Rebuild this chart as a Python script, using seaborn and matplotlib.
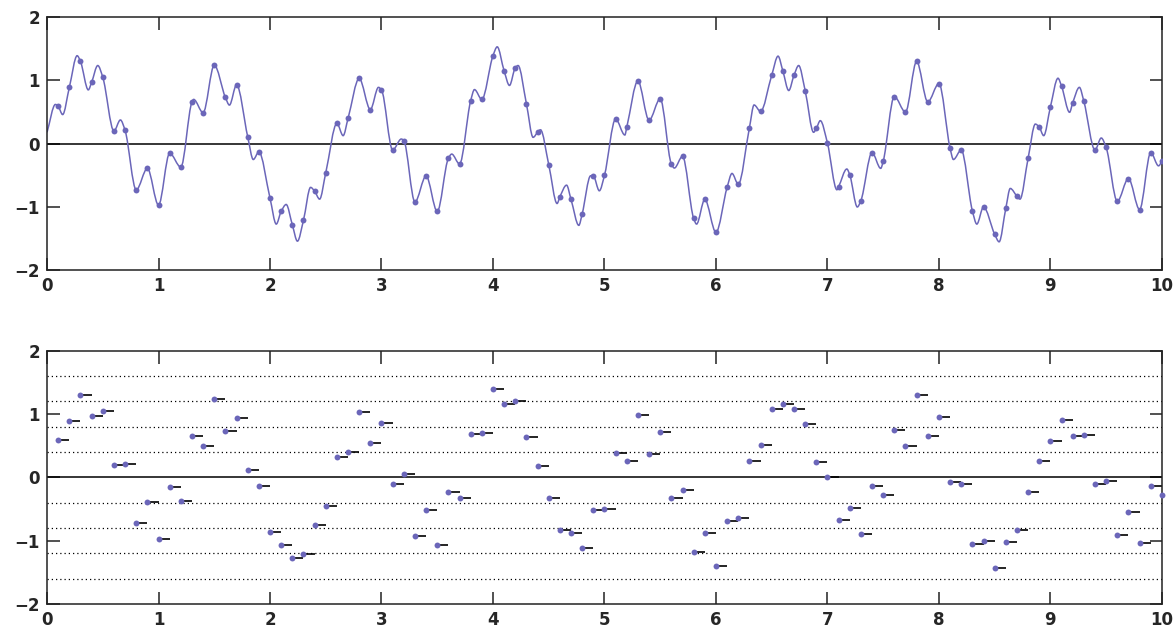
import numpy as np
import pandas as pd
import matplotlib
matplotlib.use("Agg")
import matplotlib.pyplot as plt
from matplotlib.path import Path
from matplotlib.patches import PathPatch
import seaborn as sns

# ── Data ────────────────────────────────────────────────────
# sampled values at t = 0.1, 0.2, ..., 10.0
sample_t = np.round(np.arange(1, 101) * 0.1, 1)
sample_v = [
    0.59, 0.89, 1.30, 0.97, 1.05, 0.20, 0.21, -0.73, -0.39, -0.97,
    -0.15, -0.37, 0.66, 0.49, 1.24, 0.73, 0.93, 0.11, -0.13, -0.86,
    -1.07, -1.28, -1.21, -0.75, -0.46, 0.32, 0.40, 1.03, 0.54, 0.85,
    -0.10, 0.05, -0.92, -0.51, -1.07, -0.23, -0.32, 0.68, 0.70, 1.39,
    1.15, 1.20, 0.63, 0.18, -0.33, -0.84, -0.88, -1.11, -0.51, -0.50,
    0.39, 0.26, 0.99, 0.37, 0.71, -0.32, -0.20, -1.18, -0.88, -1.40,
    -0.69, -0.64, 0.25, 0.51, 1.08, 1.15, 1.08, 0.84, 0.24, 0.01,
    -0.68, -0.49, -0.90, -0.14, -0.28, 0.745, 0.50, 1.30, 0.66, 0.95,
    -0.07, -0.10, -1.06, -1.00, -1.43, -1.02, -0.83, -0.23, 0.26, 0.58,
    0.91, 0.645, 0.67, -0.10, -0.06, -0.91, -0.55, -1.04, -0.14, -0.28,
]

# extra points of the continuous signal (start and ripple peaks / troughs)
curve_t = [
    0.0, 0.075, 0.14, 0.27, 0.37, 0.455, 0.658,
    1.315, 1.636, 1.85, 2.056, 2.145, 2.246, 2.364, 2.445,
    2.656, 2.973, 3.178, 3.63, 3.834, 4.038, 4.148, 4.225, 4.36, 4.426,
    4.575, 4.66, 4.77, 4.876, 4.954, 5.183, 5.627, 5.826, 6.144,
    6.342, 6.557, 6.653, 6.742, 6.876, 6.936, 7.085, 7.174, 7.268, 7.478,
    8.13, 8.34, 8.54, 8.64, 8.727, 8.865, 8.94, 9.068, 9.172, 9.26,
    9.456, 9.97,
]
curve_v = [
    0.18, 0.62, 0.46, 1.39, 0.85, 1.235, 0.375,
    0.70, 0.61, -0.25, -1.27, -0.96, -1.54, -0.69, -0.876,
    0.127, 0.89, 0.074, -0.164, 0.855, 1.53, 0.92, 1.235, 0.10, 0.22,
    -0.945, -0.655, -1.29, -0.507, -0.744, 0.137, -0.385, -1.27, -0.47,
    0.612, 1.383, 0.84, 1.235, 0.18, 0.364, -0.728, -0.40, -1.0, -0.39,
    -0.25, -1.27, -1.55, -0.707, -0.876, 0.31, 0.127, 1.034, 0.496, 0.89,
    0.09, -0.35,
]

# quantisation levels (dotted lines in the lower panel)
levels = [-1.6, -1.2, -0.8, -0.4, 0.4, 0.8, 1.2, 1.6]

samples = pd.DataFrame({"t": sample_t, "v": sample_v})
curve = pd.concat([samples, pd.DataFrame({"t": curve_t, "v": curve_v})])
curve = curve.sort_values("t").reset_index(drop=True)

purple = "#6b66b9"


def smooth_path(x, y):
    """Bezier path through the read points (monotone cubic tangents)."""
    x = np.asarray(x, float)
    y = np.asarray(y, float)
    h = np.diff(x)
    d = np.diff(y) / h
    m = np.zeros_like(y)
    m[0], m[-1] = d[0], d[-1]
    for i in range(1, len(x) - 1):
        if d[i - 1] * d[i] > 0:
            w1 = 2 * h[i] + h[i - 1]
            w2 = h[i] + 2 * h[i - 1]
            m[i] = (w1 + w2) / (w1 / d[i - 1] + w2 / d[i])
    verts = [(x[0], y[0])]
    codes = [Path.MOVETO]
    for i in range(len(x) - 1):
        verts += [(x[i] + h[i] / 3, y[i] + m[i] * h[i] / 3),
                  (x[i + 1] - h[i] / 3, y[i + 1] - m[i + 1] * h[i] / 3),
                  (x[i + 1], y[i + 1])]
        codes += [Path.CURVE4] * 3
    return Path(verts, codes)


# ── Style ───────────────────────────────────────────────────
sns.set_style("ticks")
plt.rcParams["font.family"] = ["DejaVu Sans"]
plt.rcParams["axes.edgecolor"] = "#222222"
plt.rcParams["axes.linewidth"] = 1.1

fig = plt.figure(figsize=(11.76, 6.33), dpi=100)
ax1 = fig.add_axes([0.040, 0.573, 0.948, 0.400])
ax2 = fig.add_axes([0.040, 0.046, 0.948, 0.400])

# ── Top: continuous signal with samples ────────────────────
ax1.axhline(0, color="black", lw=1.1, zorder=1)
ax1.add_patch(PathPatch(smooth_path(curve["t"], curve["v"]), facecolor="none",
                        edgecolor=purple, lw=1.1, zorder=2))
sns.scatterplot(data=samples, x="t", y="v", ax=ax1, color=purple, s=18,
                linewidth=0, zorder=3)

# ── Bottom: sample and hold ────────────────────────────────
for lvl in levels:
    ax2.axhline(lvl, color="black", lw=0.9, ls=(0, (1, 2.4)), zorder=1)
ax2.axhline(0, color="black", lw=1.1, zorder=1)
ax2.hlines(samples["v"], samples["t"], samples["t"] + 0.1,
           color="black", lw=1.2, zorder=2)
sns.scatterplot(data=samples, x="t", y="v", ax=ax2, color=purple, s=18,
                linewidth=0, zorder=3, clip_on=False)

for ax in (ax1, ax2):
    ax.set_xlim(0, 10)
    ax.set_ylim(-2, 2)
    ax.set_xticks(range(0, 11))
    ax.set_yticks([-2, -1, 0, 1, 2])
    ax.set_xlabel("")
    ax.set_ylabel("")
    ax.tick_params(direction="in", length=9, width=1.1, color="#222222",
                   top=True, right=True, labelsize=12, pad=5)
    for lab in ax.get_xticklabels() + ax.get_yticklabels():
        lab.set_fontweight("bold")
    for sp in ax.spines.values():
        sp.set_visible(True)

plt.savefig("out.png", dpi=100)
